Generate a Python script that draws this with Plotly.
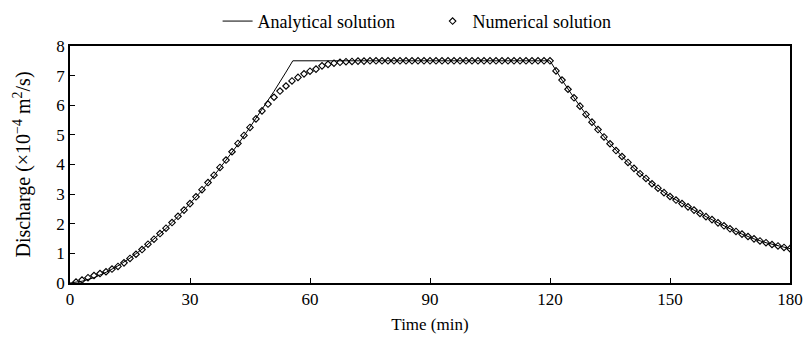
import plotly.graph_objects as go

# Analytical solution (typed values)
t_ana = [0, 3, 6, 9, 12, 15, 18, 21, 24, 27, 30, 33, 36, 39, 42, 45, 48, 51, 54, 55.7,
         120, 123, 126, 129, 132, 135, 138, 141, 144, 147, 150, 153, 156, 159, 162,
         165, 168, 171, 174, 177, 180]
q_ana = [0, 0.06, 0.18, 0.36, 0.58, 0.84, 1.14, 1.48, 1.84, 2.24, 2.67, 3.13, 3.62,
         4.14, 4.68, 5.26, 5.85, 6.47, 7.12, 7.50,
         7.50, 6.85, 6.25, 5.69, 5.18, 4.70, 4.27, 3.87, 3.53, 3.20, 2.92, 2.68, 2.46,
         2.24, 2.03, 1.83, 1.65, 1.49, 1.36, 1.25, 1.16]

# Numerical solution, every 1.5 min from 1.5 to 180
t_num = [1.5 * k for k in range(1, 121)]
q_num = [0.03, 0.10, 0.18, 0.25, 0.32, 0.38, 0.47, 0.56, 0.68, 0.83,
         0.97, 1.13, 1.31, 1.48, 1.67, 1.85, 2.04, 2.25, 2.46, 2.68,
         2.91, 3.15, 3.39, 3.64, 3.90, 4.15, 4.43, 4.71, 4.98, 5.25,
         5.54, 5.81, 6.04, 6.27, 6.48, 6.65, 6.82, 6.94, 7.06, 7.15,
         7.22, 7.33, 7.38, 7.42, 7.45, 7.47, 7.48, 7.49, 7.49, 7.50,
         7.50, 7.50, 7.50, 7.50, 7.50, 7.50, 7.50, 7.50, 7.50, 7.50,
         7.50, 7.50, 7.50, 7.50, 7.50, 7.50, 7.50, 7.50, 7.50, 7.50,
         7.50, 7.50, 7.50, 7.50, 7.50, 7.50, 7.50, 7.50, 7.50, 7.50,
         7.16, 6.85, 6.54, 6.25, 5.97, 5.69, 5.43, 5.18, 4.93, 4.70,
         4.47, 4.27, 4.07, 3.87, 3.69, 3.53, 3.35, 3.20, 3.05, 2.92,
         2.80, 2.68, 2.57, 2.46, 2.35, 2.24, 2.14, 2.03, 1.93, 1.83,
         1.74, 1.65, 1.57, 1.49, 1.42, 1.36, 1.30, 1.25, 1.20, 1.16]

x_ticks = [0, 30, 60, 90, 120, 150, 180]
y_ticks = [0, 1, 2, 3, 4, 5, 6, 7, 8]

FONT = "Liberation Serif, Times New Roman, serif"

fig = go.Figure()
fig.add_trace(go.Scatter(x=t_ana, y=q_ana, mode="lines", name="Analytical solution",
                         line=dict(color="black", width=1)))
fig.add_trace(go.Scatter(x=t_num, y=q_num, mode="markers", name="Numerical solution",
                         marker=dict(symbol="diamond-open", size=5, color="black",
                                     line=dict(width=1.1, color="black"))))

axis_common = dict(showgrid=False, zeroline=False, showline=True, linecolor="black",
                   linewidth=1.5, mirror=True, ticks="inside", ticklen=5,
                   tickcolor="black", tickwidth=1,
                   tickfont=dict(family=FONT, size=17, color="black"))

fig.update_layout(
    width=807, height=342,
    margin=dict(l=70, r=17, t=46, b=59, autoexpand=False),
    paper_bgcolor="white", plot_bgcolor="white",
    font=dict(family=FONT, size=17, color="black"),
    showlegend=True,
    legend=dict(orientation="h", x=0.205, xanchor="left", y=1.182, yanchor="top",
                font=dict(family=FONT, size=18, color="black"),
                entrywidth=170, entrywidthmode="pixels",
                bgcolor="rgba(0,0,0,0)"),
    xaxis=dict(range=[0, 180], tickvals=x_ticks,
               title=dict(text="Time (min)", font=dict(family=FONT, size=17), standoff=10),
               **axis_common),
    yaxis=dict(range=[0, 8], tickvals=y_ticks,
               title=dict(text="Discharge (×10<sup>−4</sup> m<sup>2</sup>/s)",
                          font=dict(family=FONT, size=20), standoff=20),
               **axis_common),
)

fig.write_html("out.html")
